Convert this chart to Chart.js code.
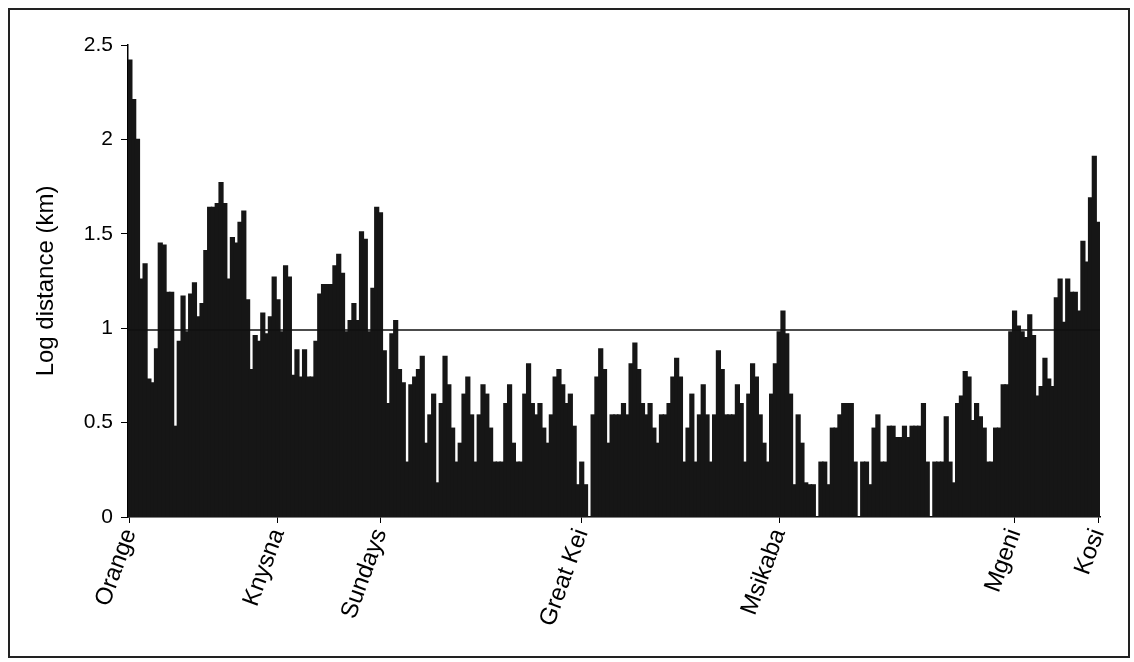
<!DOCTYPE html>
<html>
<head>
<meta charset="utf-8">
<script src="https://cdn.jsdelivr.net/npm/chart.js@4.4.1/dist/chart.umd.min.js"></script>
<style>
  html, body { margin: 0; padding: 0; background: #fff; }
  #wrap { position: relative; width: 1134px; height: 662px; }
  #frame { position: absolute; left: 8px; top: 8px; width: 1118px; height: 646px; border: 2px solid #222; pointer-events: none; }
</style>
</head>
<body>
<div id="wrap">
  <canvas id="chart" width="1134" height="662"></canvas>
  <div id="frame"></div>
</div>
<script>
// estuaries named on the x axis and the bar they sit under
const rivers = ['Orange', 'Knysna', 'Sundays', 'Great Kei', 'Msikaba', 'Mgeni', 'Kosi'];
const riverIndex = [0, 39, 66, 119, 171, 233, 255];

// log10 distance (km), one bar per site, west to east
const distances = [
  2.42, 2.21, 2.0, 1.26, 1.34, 0.73, 0.71, 0.89, 1.45, 1.44,
  1.19, 1.19, 0.48, 0.93, 1.17, 0.98, 1.18, 1.24, 1.06, 1.13,
  1.41, 1.64, 1.64, 1.66, 1.77, 1.66, 1.26, 1.48, 1.45, 1.56,
  1.62, 1.15, 0.78, 0.96, 0.93, 1.08, 0.97, 1.06, 1.27, 1.15,
  0.98, 1.33, 1.27, 0.75, 0.885, 0.74, 0.885, 0.74, 0.74, 0.93,
  1.18, 1.23, 1.23, 1.23, 1.33, 1.39, 1.29, 0.98, 1.04, 1.13,
  1.04, 1.51, 1.47, 0.98, 1.21, 1.64, 1.61, 0.88, 0.60, 0.97,
  1.04, 0.78, 0.71, 0.29, 0.70, 0.74, 0.78, 0.85, 0.39, 0.54,
  0.65, 0.18, 0.60, 0.85, 0.70, 0.47, 0.29, 0.39, 0.65, 0.74,
  0.54, 0.29, 0.54, 0.70, 0.65, 0.47, 0.29, 0.29, 0.29, 0.60,
  0.70, 0.39, 0.29, 0.29, 0.65, 0.81, 0.60, 0.54, 0.60, 0.47,
  0.39, 0.54, 0.74, 0.78, 0.70, 0.60, 0.65, 0.48, 0.17, 0.29,
  0.17, 0, 0.54, 0.74, 0.89, 0.78, 0.39, 0.54, 0.54, 0.54,
  0.60, 0.54, 0.81, 0.92, 0.78, 0.60, 0.54, 0.60, 0.47, 0.39,
  0.54, 0.54, 0.60, 0.74, 0.84, 0.74, 0.29, 0.47, 0.65, 0.29,
  0.54, 0.70, 0.54, 0.29, 0.54, 0.88, 0.78, 0.54, 0.54, 0.54,
  0.70, 0.60, 0.29, 0.65, 0.81, 0.74, 0.54, 0.39, 0.29, 0.65,
  0.81, 0.98, 1.09, 0.97, 0.65, 0.17, 0.54, 0.39, 0.18, 0.17,
  0.17, 0, 0.29, 0.29, 0.17, 0.47, 0.47, 0.54, 0.60, 0.60,
  0.60, 0.29, 0, 0.29, 0.29, 0.17, 0.47, 0.54, 0.29, 0.29,
  0.48, 0.48, 0.42, 0.42, 0.48, 0.42, 0.48, 0.48, 0.48, 0.60,
  0.29, 0, 0.29, 0.29, 0.29, 0.53, 0.29, 0.18, 0.60, 0.64,
  0.77, 0.74, 0.51, 0.60, 0.53, 0.47, 0.29, 0.29, 0.47, 0.47,
  0.70, 0.70, 0.98, 1.09, 1.01, 0.98, 0.95, 1.07, 0.96, 0.64,
  0.69, 0.84, 0.73, 0.69, 1.16, 1.26, 1.03, 1.26, 1.19, 1.19,
  1.09, 1.46, 1.35, 1.69, 1.91, 1.56
];

const threshold = 0.99;
const yTicks = [0, 0.5, 1, 1.5, 2, 2.5];

const labels = distances.map((_, i) => {
  const k = riverIndex.indexOf(i);
  return k >= 0 ? rivers[k] : '';
});

const fontFamily = '"Liberation Sans", Arial, sans-serif';

// horizontal reference line across the plot
const thresholdLine = {
  id: 'thresholdLine',
  afterDatasetsDraw(chart) {
    const { ctx, chartArea, scales } = chart;
    const y = scales.y.getPixelForValue(threshold);
    ctx.save();
    ctx.strokeStyle = '#111';
    ctx.lineWidth = 1.5;
    ctx.beginPath();
    ctx.moveTo(chartArea.left, y);
    ctx.lineTo(chartArea.right, y);
    ctx.stroke();
    ctx.restore();
  }
};

new Chart(document.getElementById('chart'), {
  type: 'bar',
  data: {
    labels: labels,
    datasets: [{
      data: distances,
      backgroundColor: '#161616',
      borderWidth: 0,
      inflateAmount: 0.7,
      barPercentage: 1,
      categoryPercentage: 1
    }]
  },
  options: {
    responsive: false,
    animation: false,
    devicePixelRatio: 1,
    layout: { padding: { top: 45, right: 34, bottom: 0, left: 0 } },
    plugins: {
      legend: { display: false },
      tooltip: { enabled: false }
    },
    scales: {
      x: {
        offset: true,
        grid: {
          offset: false,
          drawOnChartArea: false,
          drawTicks: true,
          tickLength: 6,
          color: ctx => labels[ctx.index] ? '#000' : 'rgba(0,0,0,0)'
        },
        border: { display: true, color: '#000', width: 1.5 },
        ticks: {
          autoSkip: false,
          minRotation: 70,
          maxRotation: 70,
          padding: 2,
          color: '#000',
          font: { family: fontFamily, size: 24 }
        },
        afterFit(scale) { scale.height = 145; }
      },
      y: {
        min: 0,
        max: 2.5,
        afterBuildTicks(scale) { scale.ticks = yTicks.map(v => ({ value: v })); },
        grid: {
          drawOnChartArea: false,
          drawTicks: true,
          tickLength: 7,
          color: '#000'
        },
        border: { display: true, color: '#000', width: 1.5 },
        ticks: {
          padding: 8,
          color: '#000',
          font: { family: fontFamily, size: 21 },
          callback: v => String(v)
        },
        title: {
          display: true,
          text: 'Log distance (km)',
          color: '#000',
          font: { family: fontFamily, size: 24 },
          padding: { top: 32, bottom: 0 }
        },
        afterFit(scale) { scale.width = 128; }
      }
    }
  },
  plugins: [thresholdLine]
});
</script>
</body>
</html>
